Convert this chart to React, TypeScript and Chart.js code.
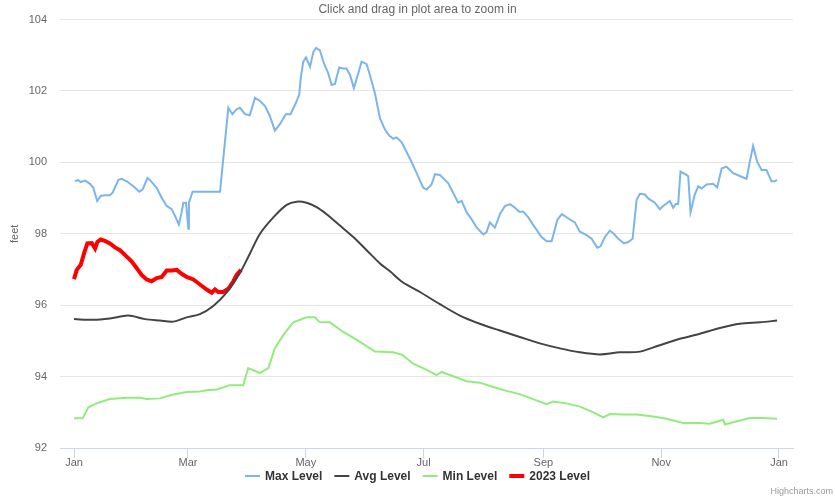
import React, { useEffect, useRef } from "react";
import { Chart, registerables } from "chart.js";

Chart.register(...registerables);

const TITLE = "Click and drag in plot area to zoom in";
const Y_TITLE = "feet";
const CREDIT = "Highcharts.com";

// x positions are day-of-year (0 = Jan 1)
const monthTickDays = [0, 59, 120, 181, 243, 304, 365];
const monthTickLabels = ["Jan", "Mar", "May", "Jul", "Sep", "Nov", "Jan"];

const maxDays = [0.5, 2, 3.5, 5.7, 8.3, 10, 12, 13.8, 16, 18.6, 20, 23, 24.7, 27.3, 30.7, 33.8, 35.5, 38, 39.3, 42.8, 45.4, 48, 50.6, 52.3, 54.3, 55.7, 56.6, 58, 59.2, 59.5, 61.4, 75.6, 79.9, 82, 84.2, 85.9, 88.5, 91, 93.7, 96.3, 98.9, 101.4, 104, 106.6, 109.7, 112.1, 114.9, 116.6, 117.5, 118.7, 120.1, 122.2, 123.9, 125.3, 127.3, 129.4, 131.6, 133.4, 135.1, 137.3, 139.1, 141.1, 142.9, 144.9, 147.2, 148.9, 151.5, 153.2, 155.8, 158.4, 161, 163.2, 165.3, 167, 169.6, 173.9, 177.4, 180.8, 182.6, 185.1, 186.9, 189.4, 193.7, 196.3, 198.9, 200.7, 203.3, 205.8, 208.4, 211.9, 213.6, 215.3, 217.9, 220.5, 223.1, 225.7, 228.3, 230.5, 232.6, 235.2, 238.6, 242.1, 244.7, 247.3, 250.3, 252.6, 255.4, 259.3, 261.9, 265.4, 268, 270.9, 272.6, 274.9, 277.4, 279.5, 281.8, 284.7, 286.9, 289.2, 291.3, 293, 295.6, 297.3, 300.7, 303.3, 305, 308.5, 310.2, 311.6, 312.8, 314, 317.1, 318, 319.2, 321.4, 323.2, 324.9, 327.5, 330.9, 333, 335.3, 337.8, 341.3, 344.7, 348.2, 349.9, 351.6, 353.7, 356, 358.5, 361.1, 362.8, 364];
const maxLevels = [99.47, 99.51, 99.45, 99.49, 99.40, 99.29, 98.92, 99.06, 99.08, 99.08, 99.15, 99.51, 99.54, 99.47, 99.33, 99.18, 99.24, 99.56, 99.51, 99.29, 99.01, 98.78, 98.69, 98.50, 98.26, 98.60, 98.87, 98.87, 98.14, 98.87, 99.18, 99.18, 101.53, 101.35, 101.49, 101.53, 101.35, 101.32, 101.81, 101.72, 101.58, 101.30, 100.89, 101.07, 101.35, 101.35, 101.67, 101.90, 102.40, 102.82, 102.94, 102.68, 103.09, 103.21, 103.14, 102.77, 102.50, 102.17, 102.20, 102.66, 102.63, 102.63, 102.45, 102.08, 102.50, 102.82, 102.75, 102.45, 101.94, 101.24, 100.92, 100.75, 100.66, 100.70, 100.57, 100.11, 99.70, 99.29, 99.24, 99.38, 99.67, 99.65, 99.42, 99.15, 98.87, 98.92, 98.60, 98.41, 98.18, 97.98, 98.05, 98.32, 98.17, 98.55, 98.78, 98.83, 98.73, 98.62, 98.62, 98.46, 98.18, 97.91, 97.79, 97.79, 98.40, 98.55, 98.45, 98.32, 98.06, 97.96, 97.86, 97.61, 97.65, 97.91, 98.09, 98.00, 97.86, 97.73, 97.77, 97.86, 98.96, 99.12, 99.10, 98.99, 98.87, 98.69, 98.78, 98.92, 98.73, 98.84, 98.83, 99.74, 99.65, 99.61, 98.60, 99.10, 99.33, 99.27, 99.38, 99.40, 99.30, 99.83, 99.88, 99.70, 99.62, 99.54, 100.02, 100.46, 100.02, 99.79, 99.79, 99.47, 99.47, 99.51];

const avgDays = [0, 10, 18.6, 28.1, 36.7, 44.5, 51.4, 58.3, 65.2, 72.1, 79, 85.9, 91.1, 96.3, 103.2, 110.1, 115.3, 120.4, 125.6, 130.8, 137.7, 144.6, 151.5, 158.4, 163.6, 170, 179.1, 189.4, 199.8, 210.1, 220.5, 230.8, 241.2, 251.6, 261.9, 272.3, 282.6, 293, 303.3, 313.7, 324, 334.4, 344.7, 355.1, 364];
const avgLevels = [95.61, 95.59, 95.63, 95.71, 95.61, 95.57, 95.54, 95.66, 95.75, 95.98, 96.35, 96.90, 97.45, 98.00, 98.46, 98.81, 98.90, 98.87, 98.75, 98.55, 98.23, 97.91, 97.54, 97.17, 96.95, 96.65, 96.37, 96.03, 95.71, 95.48, 95.29, 95.11, 94.93, 94.79, 94.68, 94.62, 94.68, 94.70, 94.88, 95.06, 95.20, 95.36, 95.48, 95.52, 95.57];

const minDays = [0, 4.5, 7.4, 11.7, 18.6, 27.3, 34.2, 37.6, 44.5, 51.4, 58.3, 65.2, 68.7, 73.9, 80.7, 87.6, 90.2, 96.3, 100.6, 104, 108.3, 113.5, 120.4, 124.7, 127.3, 132.5, 139.4, 148.1, 155.8, 165.3, 170, 175.6, 182.6, 187.7, 190.3, 196.3, 203.3, 210.1, 217, 223.9, 230.8, 237.7, 244.7, 248.1, 255, 261.9, 268.8, 274, 277.5, 284.4, 291.3, 299.9, 306.8, 315.5, 324, 329.2, 336.1, 337, 341.3, 349.9, 356.8, 364];
const minLevels = [92.83, 92.83, 93.14, 93.25, 93.37, 93.41, 93.41, 93.37, 93.39, 93.50, 93.57, 93.58, 93.62, 93.64, 93.76, 93.76, 94.24, 94.10, 94.24, 94.79, 95.16, 95.52, 95.66, 95.66, 95.52, 95.52, 95.25, 94.97, 94.70, 94.68, 94.61, 94.36, 94.19, 94.04, 94.13, 94.01, 93.87, 93.83, 93.71, 93.60, 93.51, 93.37, 93.23, 93.30, 93.25, 93.16, 93.00, 92.86, 92.95, 92.94, 92.94, 92.88, 92.82, 92.70, 92.70, 92.68, 92.79, 92.66, 92.72, 92.84, 92.84, 92.82];

const y2023Days = [0, 1.4, 3.5, 5.2, 6.9, 9.2, 10.9, 12.1, 13.8, 16, 18.6, 21.2, 23.8, 27.3, 29.9, 32.4, 35, 37.6, 40.2, 42.8, 45.4, 48, 50.6, 53.2, 55.7, 58.3, 61.8, 65.2, 68.7, 71.3, 73, 74.7, 77.3, 79.9, 82.5, 84.2, 86.5];
const y2023Levels = [96.73, 96.99, 97.13, 97.45, 97.73, 97.74, 97.59, 97.77, 97.84, 97.80, 97.73, 97.62, 97.54, 97.36, 97.22, 97.04, 96.85, 96.72, 96.67, 96.76, 96.79, 96.97, 96.97, 96.99, 96.88, 96.79, 96.72, 96.58, 96.44, 96.35, 96.44, 96.37, 96.37, 96.46, 96.67, 96.85, 96.99];

const FONT = '"Liberation Sans", Arial, Helvetica, sans-serif';

function pts(days: number[], vals: number[]) {
  return days.map((d, i) => ({ x: d, y: vals[i] }));
}

const overlayPlugin = {
  id: "overlay",
  afterDraw(chart: any) {
    const ctx = chart.ctx as CanvasRenderingContext2D;
    const W = chart.width;
    ctx.save();
    // subtitle over the top grid line
    ctx.font = `12px ${FONT}`;
    const tw = ctx.measureText(TITLE).width;
    ctx.fillStyle = "#ffffff";
    ctx.fillRect(W / 2 - tw / 2 - 3, 4, tw + 6, 13);
    ctx.fillStyle = "#666666";
    ctx.textAlign = "center";
    ctx.textBaseline = "middle";
    ctx.fillText(TITLE, W / 2, 10);

    // legend
    ctx.font = `bold 12px ${FONT}`;
    const ds = chart.data.datasets;
    const symW = 15, gap = 5, dist = 12;
    const widths = ds.map((d: any) => ctx.measureText(d.label).width);
    const total = widths.reduce((a: number, w: number) => a + symW + gap + w, 0) + dist * (ds.length - 1);
    let x = W / 2 - total / 2;
    const ly = 476;
    ds.forEach((d: any, i: number) => {
      ctx.strokeStyle = d.borderColor;
      ctx.lineWidth = d.borderWidth;
      ctx.beginPath();
      ctx.moveTo(x, ly);
      ctx.lineTo(x + symW, ly);
      ctx.stroke();
      ctx.fillStyle = "#333333";
      ctx.textAlign = "left";
      ctx.textBaseline = "middle";
      ctx.fillText(d.label, x + symW + gap, ly + 0.5);
      x += symW + gap + widths[i] + dist;
    });

    // credit
    ctx.font = `9px ${FONT}`;
    ctx.fillStyle = "#999999";
    ctx.textAlign = "right";
    ctx.fillText(CREDIT, W - 2, 492);
    ctx.restore();
  },
};

export default function App() {
  const ref = useRef<HTMLCanvasElement | null>(null);
  useEffect(() => {
    if (!ref.current) return;
    const chart = new Chart(ref.current, {
      type: "line",
      data: {
        datasets: [
          { label: "Max Level", data: pts(maxDays, maxLevels), borderColor: "#7cb5ec", backgroundColor: "#7cb5ec", borderWidth: 2, pointRadius: 0, tension: 0 },
          { label: "Avg Level", data: pts(avgDays, avgLevels), borderColor: "#434348", backgroundColor: "#434348", borderWidth: 2, pointRadius: 0, tension: 0.3 },
          { label: "Min Level", data: pts(minDays, minLevels), borderColor: "#90ed7d", backgroundColor: "#90ed7d", borderWidth: 2, pointRadius: 0, tension: 0 },
          { label: "2023 Level", data: pts(y2023Days, y2023Levels), borderColor: "#ff0000", backgroundColor: "#ff0000", borderWidth: 4, pointRadius: 0, tension: 0 },
        ],
      },
      options: {
        animation: false,
        responsive: false,
        devicePixelRatio: 1,
        layout: { padding: { top: 12, right: 42, bottom: 0, left: 0 } },
        plugins: { legend: { display: false }, title: { display: false }, tooltip: { enabled: false } },
        scales: {
          x: {
            type: "linear",
            min: -7.25,
            max: 372.25,
            afterBuildTicks: (scale: any) => {
              scale.ticks = monthTickDays.map((v) => ({ value: v }));
            },
            afterFit: (scale: any) => {
              scale.height = 51;
            },
            ticks: {
              autoSkip: false,
              maxRotation: 0,
              padding: -2,
              color: "#666666",
              font: { family: FONT, size: 11 },
              callback: (_v: any, i: number) => monthTickLabels[i],
            },
            grid: { display: true, drawOnChartArea: false, drawTicks: true, tickLength: 10, color: "#ccd6eb" },
            border: { display: true, color: "#ccd6eb" },
          },
          y: {
            min: 92,
            max: 104,
            afterFit: (scale: any) => {
              scale.width = 60;
            },
            ticks: { stepSize: 2, padding: 13, color: "#666666", font: { family: FONT, size: 11 } },
            grid: { color: "#e6e6e6", drawTicks: false },
            border: { display: false },
            title: { display: true, text: Y_TITLE, color: "#666666", font: { family: FONT, size: 11 }, padding: { top: 8, bottom: 0 } },
          },
        },
      },
      plugins: [overlayPlugin],
    } as any);
    return () => chart.destroy();
  }, []);
  return (
    <div style={{ position: "fixed", left: 0, top: 0, width: 835, height: 499, background: "#fff" }}>
      <canvas ref={ref} width={835} height={499} style={{ width: 835, height: 499, display: "block" }} />
    </div>
  );
}
